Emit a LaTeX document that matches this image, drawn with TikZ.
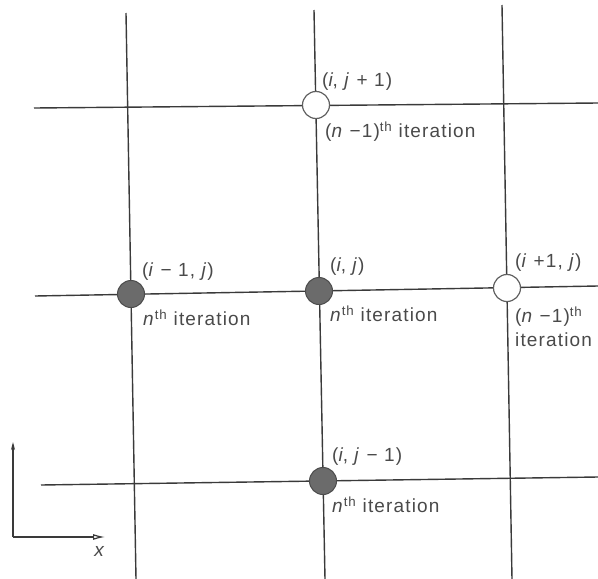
\documentclass[tikz,border=0pt]{standalone}
\usepackage{fontspec}
\setmainfont[LetterSpace=6]{Liberation Sans}
\usetikzlibrary{arrows.meta}
\definecolor{inkc}{HTML}{3A3A3A}
\definecolor{txtc}{HTML}{4A4A4A}
\begin{document}
\begin{tikzpicture}[x=1pt,y=-1pt,
  gridline/.style={draw=inkc,line width=1.4pt},
  solved/.style={circle,minimum size=27pt,inner sep=0pt,fill=black!58,draw=black!70,line width=1pt},
  oldval/.style={circle,minimum size=27pt,inner sep=0pt,fill=white,draw=inkc!80,line width=1.2pt},
  lab/.style={anchor=west,inner sep=0pt,text=txtc,font=\fontsize{19}{21}\selectfont}]
\useasboundingbox (0,0) rectangle (598,579);
\fill[white] (0,0) rectangle (598,579);
% grid line ends
\coordinate (v1t) at (126,13);  \coordinate (v1b) at (136,579);
\coordinate (v2t) at (314,10);  \coordinate (v2b) at (325,579);
\coordinate (v3t) at (502,5);   \coordinate (v3b) at (512,579);
\coordinate (h1l) at (34,108);  \coordinate (h1r) at (598,103);
\coordinate (h2l) at (35,296);  \coordinate (h2r) at (598,286);
\coordinate (h3l) at (41,485);  \coordinate (h3r) at (598,477);
\draw[gridline] (v1t) -- (v1b);
\draw[gridline] (v2t) -- (v2b);
\draw[gridline] (v3t) -- (v3b);
\draw[gridline] (h1l) -- (h1r);
\draw[gridline] (h2l) -- (h2r);
\draw[gridline] (h3l) -- (h3r);
% grid points
\node[oldval] (top) at (316,105) {};
\node[solved] (left) at (131,294) {};
\node[solved] (mid) at (319,291) {};
\node[oldval] (right) at (507,288) {};
\node[solved] (bot) at (323,481) {};
% labels
\node[lab] (ltop) at (322,82) {(\textit{i}, \textit{j} + 1)};
\node[lab] (ltopit) at (325,132) {(\textit{n} −1)\textsuperscript{th} iteration};
\node[lab] (lleft) at (142,272) {(\textit{i} − 1, \textit{j})};
\node[lab] (lleftit) at (143,318) {\textit{n}\textsuperscript{th} iteration};
\node[lab] (lmid) at (330,267) {(\textit{i}, \textit{j})};
\node[lab] (lmidit) at (330,314) {\textit{n}\textsuperscript{th} iteration};
\node[lab] (lright) at (515,263) {(\textit{i} +1, \textit{j})};
\node[lab] (lrightit) at (515,317) {(\textit{n} −1)\textsuperscript{th}};
\node[lab] (lrightit2) at (515,340) {iteration};
\node[lab] (lbot) at (332,457) {(\textit{i}, \textit{j} − 1)};
\node[lab] (lbotit) at (332,505) {\textit{n}\textsuperscript{th} iteration};
% axes
\coordinate (org) at (13,537);
\coordinate (ytip) at (13,442);
\coordinate (xtip) at (105,537);
\draw[inkc,line width=1.2pt,-{Stealth[length=8pt,width=4pt]}] (org) -- (ytip);
\draw[inkc,line width=1.2pt,-{Latex[open,length=12pt,width=6pt]}] (org) -- (xtip);
\node[lab,anchor=center] (xl) at (100,551) {\textit{x}};
\end{tikzpicture}
\end{document}
